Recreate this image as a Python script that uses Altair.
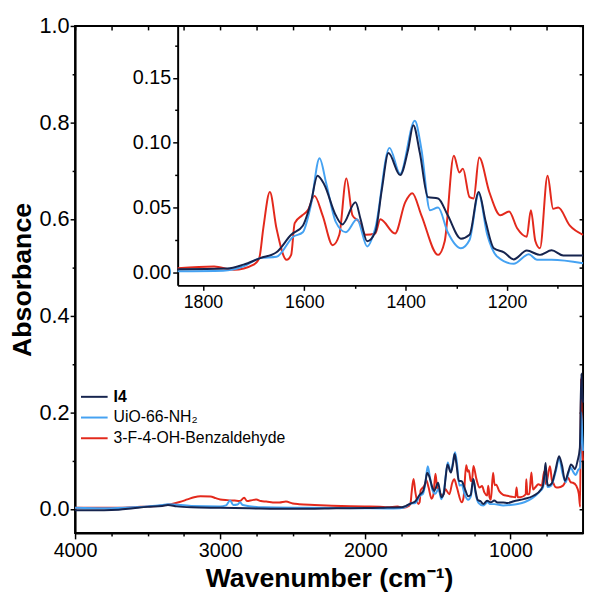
import altair as alt
import pandas as pd

I4 = "I4"
UIO = "UiO-66-NH\u2082"
RED = "3-F-4-OH-Benzaldehyde"

wn_i4 = [4000, 3800, 3700, 3600, 3500, 3400, 3360, 3300, 3200, 3000, 2800, 2600, 2400, 2200, 2000, 1900,
         1850, 1752, 1720, 1687, 1655, 1626, 1603, 1587, 1574, 1561, 1538, 1525, 1499, 1489, 1476, 1460,
         1447, 1434, 1411, 1395, 1385, 1372, 1356, 1336, 1317, 1291, 1274, 1256, 1242, 1226, 1206, 1187,
         1161, 1135, 1112, 1089, 1050, 1020, 977, 909, 842, 790, 775, 765, 758, 750, 740, 717, 690, 665,
         645, 624, 600, 583, 570, 556, 538, 522, 512, 505, 500]
ab_i4 = [-0.003, -0.003, -0.002, 0.001, 0.004, 0.006, 0.008, 0.005, 0.003, 0.002, 0.001, 0.0, 0.0, 0.001,
         0.0015, 0.002, 0.0025, 0.003, 0.006, 0.011, 0.0155, 0.029, 0.036, 0.054, 0.0745, 0.068, 0.044,
         0.037, 0.054, 0.041, 0.024, 0.031, 0.064, 0.092, 0.075, 0.095, 0.1135, 0.092, 0.058, 0.057, 0.044,
         0.026, 0.029, 0.062, 0.039, 0.0186, 0.0155, 0.010, 0.0168, 0.0135, 0.017, 0.013, 0.013, 0.012,
         0.0156, 0.020, 0.027, 0.040, 0.050, 0.075, 0.095, 0.060, 0.048, 0.052, 0.080, 0.109, 0.090, 0.058,
         0.078, 0.092, 0.088, 0.082, 0.099, 0.126, 0.28, 0.24, 0.22]

wn_uio = [4000, 3800, 3600, 3400, 3360, 3200, 3000, 2960, 2932, 2910, 2880, 2864, 2845, 2700, 2400, 2000,
          1850, 1760, 1720, 1687, 1655, 1622, 1603, 1587, 1570, 1557, 1538, 1518, 1496, 1476, 1460, 1432,
          1411, 1382, 1369, 1352, 1336, 1317, 1291, 1274, 1256, 1239, 1219, 1187, 1157, 1141, 1112, 1050,
          1000, 950, 900, 850, 800, 775, 758, 745, 720, 690, 665, 640, 620, 600, 585, 565, 550, 535, 520,
          512, 505, 500]
ab_uio = [0.002, 0.001, 0.003, 0.008, 0.0095, 0.006, 0.005, 0.007, 0.017, 0.008, 0.009, 0.0137, 0.008,
          0.003, 0.002, 0.001, 0.0008, 0.0012, 0.0046, 0.011, 0.012, 0.0275, 0.031, 0.052, 0.088, 0.069,
          0.039, 0.031, 0.041, 0.020, 0.034, 0.096, 0.076, 0.117, 0.095, 0.048, 0.050, 0.031, 0.0186, 0.025,
          0.0605, 0.029, 0.012, 0.0066, 0.014, 0.0097, 0.0097, 0.007, 0.008, 0.010, 0.014, 0.022, 0.035,
          0.045, 0.080, 0.045, 0.048, 0.075, 0.104, 0.072, 0.055, 0.075, 0.085, 0.075, 0.070, 0.080, 0.085,
          0.20, 0.15, 0.12]

wn_red = [4000, 3700, 3500, 3400, 3340, 3280, 3226, 3180, 3136, 3068, 3030, 3000, 2950, 2900, 2864, 2835,
          2815, 2780, 2751, 2720, 2683, 2620, 2592, 2547, 2500, 2457, 2350, 2230, 2100, 2004, 1900, 1850,
          1778, 1739, 1700, 1689, 1681, 1668, 1655, 1635, 1626, 1619, 1604, 1593, 1580, 1564, 1544, 1531,
          1517, 1505, 1492, 1479, 1460, 1450, 1421, 1401, 1387, 1369, 1336, 1323, 1305, 1294, 1287, 1274,
          1266, 1255, 1235, 1213, 1196, 1180, 1161, 1153, 1144, 1135, 1120, 1109, 1099, 1076, 1050, 1023,
          990, 966, 958, 950, 932, 895, 891, 884, 870, 856, 845, 830, 808, 785, 767, 755, 728, 715, 706,
          690, 672, 638, 615, 604, 585, 570, 547, 529, 520, 514, 508, 500]
ab_red = [0.002, 0.002, 0.005, 0.007, 0.0095, 0.014, 0.0194, 0.024, 0.026, 0.0255,
          0.022, 0.0194, 0.018, 0.017, 0.0163, 0.023, 0.016, 0.018, 0.0194, 0.016,
          0.015, 0.013, 0.013, 0.015, 0.011, 0.0095, 0.008, 0.0065, 0.0055, 0.005,
          0.0045, 0.0033, 0.0046, 0.002, 0.006, 0.011, 0.034, 0.062, 0.034, 0.0097,
          0.0135, 0.038, 0.044, 0.048, 0.059, 0.044, 0.021, 0.029, 0.0725, 0.044,
          0.039, 0.029, 0.030, 0.041, 0.030, 0.054, 0.061, 0.044, 0.0135, 0.024,
          0.090, 0.077, 0.080, 0.058, 0.057, 0.0885, 0.062, 0.044, 0.047, 0.034,
          0.0275, 0.048, 0.024, 0.0186, 0.0745, 0.049, 0.050, 0.036, 0.029, 0.027,
          0.025, 0.024, 0.044, 0.024, 0.024, 0.030, 0.061, 0.030, 0.031, 0.075,
          0.040, 0.044, 0.051, 0.048, 0.078, 0.051, 0.088, 0.060, 0.054, 0.045,
          0.044, 0.048, 0.060, 0.065, 0.055, 0.054, 0.048, 0.031, 0.004, 0.27,
          0.15, 0.10]

main_x_ticks = [4000, 3750, 3500, 3250, 3000, 2750, 2500, 2250, 2000, 1750, 1500, 1250, 1000, 750]
main_y_ticks = [0.0, 0.1, 0.2, 0.3, 0.4, 0.5, 0.6, 0.7, 0.8, 0.9, 1.0]
inset_x_ticks = [1800, 1700, 1600, 1500, 1400, 1300, 1200, 1100]
inset_y_ticks = [0.0, 0.025, 0.05, 0.075, 0.1, 0.125, 0.15, 0.175]

rows = []
for name, wn, ab in [(RED, wn_red, ab_red), (UIO, wn_uio, ab_uio), (I4, wn_i4, ab_i4)]:
    for w, a in zip(wn, ab):
        rows.append({"series": name, "wn": w, "ab": a})
df = pd.DataFrame(rows)
df_ins = df[(df.wn <= 1850) & (df.wn >= 1050)]

W, H = 515, 514
INS_L, INS_B = 104, 263
FONT = "Liberation Sans"

color = alt.Color("series:N", scale=alt.Scale(domain=[RED, UIO, I4],
                                              range=["#e3291c", "#45a2f2", "#16244e"]), legend=None)

xs_main = alt.Scale(domain=[4000, 500], nice=False, zero=False)
ys_main = alt.Scale(domain=[-0.05, 1.0], nice=False, zero=False)

main = alt.Chart(df).mark_line(strokeWidth=2, interpolate="monotone").encode(
    x=alt.X("wn:Q", scale=xs_main, axis=alt.Axis(
        orient="bottom", values=main_x_ticks, format="d", labelFlush=False,
        labelExpr="datum.value % 1000 === 0 ? datum.label : ''",
        tickSize={"condition": {"test": "datum.value % 1000 === 0", "value": 6}, "value": 3},
        labelFontSize=20, labelPadding=2, title="Wavenumber (cm\u207b\u00b9)", titleFontSize=27,
        titleFontWeight="bold", titlePadding=5, domainWidth=2, tickWidth=1.5, grid=False)),
    y=alt.Y("ab:Q", scale=ys_main, axis=alt.Axis(
        orient="left", values=main_y_ticks, format=".1f", labelFlush=False,
        labelExpr="round(datum.value * 10) % 2 === 0 ? datum.label : ''",
        tickSize={"condition": {"test": "round(datum.value * 10) % 2 === 0", "value": 5}, "value": 3},
        labelFontSize=22, labelPadding=1, title="Absorbance", titleFontSize=27,
        titleFontWeight="bold", titleX=-53, titleY=H / 2, titleBaseline="middle", titleAlign="center",
        titleAngle=270, domainWidth=2, tickWidth=1.5, grid=False)),
    color=color,
)

mirror = alt.Chart(df).mark_line(strokeOpacity=0).encode(
    x=alt.X("wn:Q", scale=xs_main, axis=alt.Axis(
        orient="top", values=main_x_ticks, labels=False, domain=False, offset=-4, tickSize=4,
        tickWidth=1.5, title=None, grid=False)),
    y=alt.Y("ab:Q", scale=ys_main, axis=alt.Axis(
        orient="right", values=main_y_ticks, labels=False, domain=False, offset=-4, tickSize=4,
        tickWidth=1.5, title=None, grid=False)),
    detail="series:N",
)

inset = alt.Chart(df_ins).mark_line(strokeWidth=2, interpolate="monotone").encode(
    x=alt.X("wn:Q", scale=alt.Scale(domain=[1850, 1050], range=[INS_L, W], nice=False, zero=False),
            axis=alt.Axis(orient="bottom", offset=INS_B - H, values=inset_x_ticks, format="d",
                          labelFlush=False,
                          labelExpr="datum.value % 200 === 0 ? datum.label : ''",
                          tickSize={"condition": {"test": "datum.value % 200 === 0", "value": 5}, "value": 3},
                          labelFontSize=18, labelPadding=3, title=None, domainWidth=2, tickWidth=1.5,
                          grid=False)),
    y=alt.Y("ab:Q", scale=alt.Scale(domain=[-0.01, 0.19], range=[INS_B, 0], nice=False, zero=False),
            axis=alt.Axis(orient="left", offset=-INS_L, values=inset_y_ticks, format=".2f",
                          labelFlush=False,
                          labelExpr="round(datum.value * 40) % 2 === 0 ? datum.label : ''",
                          tickSize={"condition": {"test": "round(datum.value * 40) % 2 === 0", "value": 5}, "value": 3},
                          labelFontSize=20, labelPadding=2, title=None, domainWidth=2, tickWidth=1.5,
                          grid=False)),
    color=color,
)

legend_layers = []
for name, yy, bold in [(I4, 376, True), (UIO, 397, False), (RED, 418, False)]:
    one = pd.DataFrame({"series": [name]})
    legend_layers.append(alt.Chart(one).mark_rule(strokeWidth=2).encode(
        x=alt.value(6), x2=alt.value(33), y=alt.value(yy), color=color))
    legend_layers.append(alt.Chart(one).mark_text(
        align="left", baseline="middle", fontSize=16, font=FONT,
        fontWeight="bold" if bold else "normal", color="black").encode(
        x=alt.value(39), y=alt.value(yy), text="series:N"))

chart = alt.layer(main, mirror, inset, *legend_layers).resolve_scale(
    x="independent", y="independent"
).properties(
    width=W, height=H,
    autosize=alt.AutoSizeParams(type="none"),
    padding={"left": 68, "top": 14, "right": 3, "bottom": 80},
).configure_view(
    stroke="black", strokeWidth=2
).configure_axis(
    labelFont=FONT, titleFont=FONT, labelColor="black", titleColor="black",
    domainColor="black", tickColor="black"
)

chart.save("out.html", embed_options={"renderer": "svg", "actions": False})
